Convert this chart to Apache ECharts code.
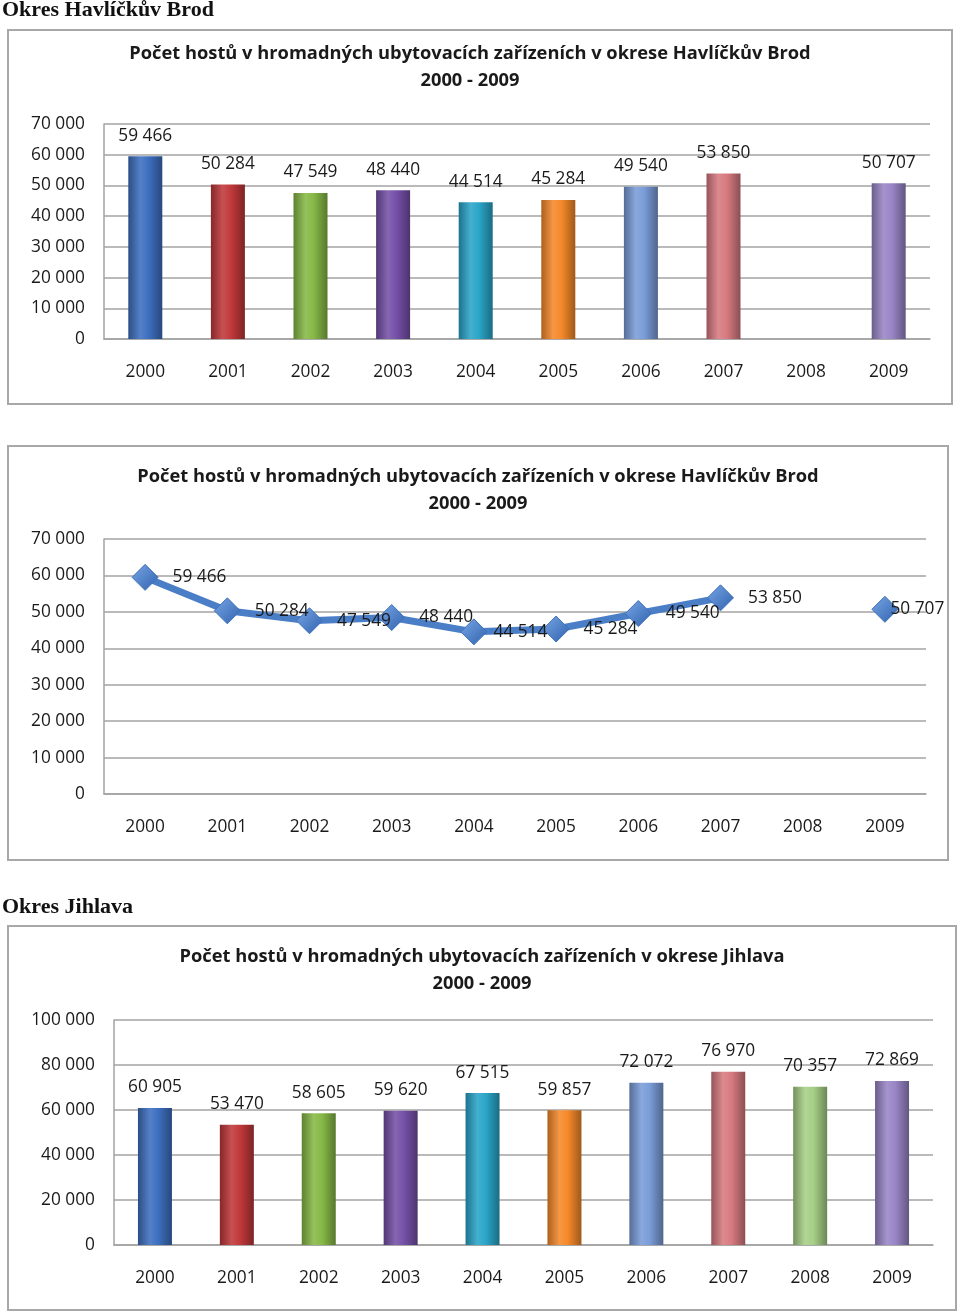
<!DOCTYPE html>
<html>
<head>
<meta charset="utf-8">
<script src="https://cdn.jsdelivr.net/npm/echarts@6/dist/echarts.min.js"></script>
<style>
html,body{margin:0;padding:0;background:#fff;}
#c{width:960px;height:1315px;}
</style>
</head>
<body>
<div id="c"></div>
<script>
// ---- data ----
const years = ['2000','2001','2002','2003','2004','2005','2006','2007','2008','2009'];
const havlBrod = [59466, 50284, 47549, 48440, 44514, 45284, 49540, 53850, null, 50707];
const jihlava = [60905, 53470, 58605, 59620, 67515, 59857, 72072, 76970, 70357, 72869];
const chartTitleHB = 'Počet hostů v hromadných ubytovacích zařízeních v okrese Havlíčkův Brod\n2000 - 2009';
const chartTitleJI = 'Počet hostů v hromadných ubytovacích zařízeních v okrese Jihlava\n2000 - 2009';
const sectionHB = 'Okres Havlíčkův Brod';
const sectionJI = 'Okres Jihlava';

// ---- styling ----
const barColors = ['#3d6fc0','#c0383a','#86b846','#7550a8','#2aa5c8','#f5892a','#7a9cd8','#d77a80','#a6cf86','#9985c6'];
const FONT = '"Open Sans", "Noto Sans", sans-serif';
const GRID_C = '#a3a3a3';

function fmt(v){ return v == null ? '' : String(v).replace(/\B(?=(\d{3})+(?!\d))/g, ' '); }
function shade(hex, f){
  const n = parseInt(hex.slice(1),16);
  let r=(n>>16)&255,g=(n>>8)&255,b=n&255;
  if(f<0){ r=Math.round(r*(1+f)); g=Math.round(g*(1+f)); b=Math.round(b*(1+f)); }
  else { r=Math.round(r+(255-r)*f); g=Math.round(g+(255-g)*f); b=Math.round(b+(255-b)*f); }
  return 'rgb('+r+','+g+','+b+')';
}
function grad(c){
  return new echarts.graphic.LinearGradient(0,0,1,0,[
    {offset:0,color:shade(c,-0.3)},
    {offset:0.35,color:shade(c,0.12)},
    {offset:0.6,color:c},
    {offset:1,color:shade(c,-0.35)}
  ]);
}
function barData(vals){
  return vals.map((v,i)=>({value:v,itemStyle:{color:grad(barColors[i])}}));
}

const axisLabel = {color:'#1a1a1a', fontFamily:FONT, fontSize:17.3};

function xAx(gi){
  return {type:'category', gridIndex:gi, data:years, boundaryGap:true,
    axisLine:{show:true,lineStyle:{color:GRID_C,width:1.5}},
    axisTick:{show:false},
    axisLabel:Object.assign({margin:25},axisLabel)};
}
function yAx(gi,max,interval){
  return {type:'value', gridIndex:gi, min:0, max:max, interval:interval,
    axisLine:{show:true,lineStyle:{color:GRID_C,width:1.5}},
    axisTick:{show:false},
    splitLine:{show:true,lineStyle:{color:GRID_C,width:1.5}},
    axisLabel:Object.assign({margin:19,formatter:fmt},axisLabel)};
}

const lineLabelDist = [14,14,14,14,6,14,14,14,14,-8];
const lineData = havlBrod.map((v,i)=>({value:v,label:{distance:lineLabelDist[i]}}));

const titleStyle = {fontFamily:FONT,fontSize:18.3,fontWeight:'bold',color:'#1a1a1a',lineHeight:27};
const frameStyle = {fill:'none',stroke:'#a8a8a8',lineWidth:2};

const option = {
  animation:false,
  backgroundColor:'#fff',
  title:[
    {text:chartTitleHB,left:470,top:40,textAlign:'center',padding:0,textStyle:titleStyle},
    {text:chartTitleHB,left:478,top:463,textAlign:'center',padding:0,textStyle:titleStyle},
    {text:chartTitleJI,left:482,top:943,textAlign:'center',padding:0,textStyle:titleStyle}
  ],
  graphic:[
    {type:'text',left:2,top:-1,style:{text:sectionHB,font:'bold 22px "Liberation Serif", "DejaVu Serif", serif',fill:'#111'}},
    {type:'text',left:2,top:896,style:{text:sectionJI,font:'bold 22px "Liberation Serif", "DejaVu Serif", serif',fill:'#111'}},
    {type:'rect',shape:{x:8,y:30,width:944,height:374},style:frameStyle,z:-1},
    {type:'rect',shape:{x:8,y:446,width:940,height:414},style:frameStyle,z:-1},
    {type:'rect',shape:{x:8,y:926,width:948,height:384},style:frameStyle,z:-1}
  ],
  grid:[
    {left:104,top:124,width:826,height:215},
    {left:104,top:539,width:822,height:255},
    {left:114,top:1020,width:819,height:225}
  ],
  xAxis:[xAx(0),xAx(1),xAx(2)],
  yAxis:[yAx(0,70000,10000),yAx(1,70000,10000),yAx(2,100000,20000)],
  series:[
    {type:'bar',xAxisIndex:0,yAxisIndex:0,data:barData(havlBrod),barWidth:34,
      label:{show:true,position:'top',distance:12,formatter:p=>fmt(p.value),color:'#1a1a1a',fontFamily:FONT,fontSize:17.3}},
    {type:'line',xAxisIndex:1,yAxisIndex:1,data:lineData,connectNulls:false,
      symbol:'diamond',symbolSize:26,
      lineStyle:{color:'#4a7ec6',width:7},
      itemStyle:{color:new echarts.graphic.LinearGradient(0,0,1,1,[{offset:0,color:'#79a6e6'},{offset:1,color:'#2f62ad'}]),borderColor:'#3f72bb',borderWidth:1},
      label:{show:true,position:'right',formatter:p=>fmt(p.value),color:'#1a1a1a',fontFamily:FONT,fontSize:17.3}},
    {type:'bar',xAxisIndex:2,yAxisIndex:2,data:barData(jihlava),barWidth:34,
      label:{show:true,position:'top',distance:12,formatter:p=>fmt(p.value),color:'#1a1a1a',fontFamily:FONT,fontSize:17.3}}
  ]
};
const chart = echarts.init(document.getElementById('c'),null,{renderer:'canvas'});
chart.setOption(option);
</script>
</body>
</html>
